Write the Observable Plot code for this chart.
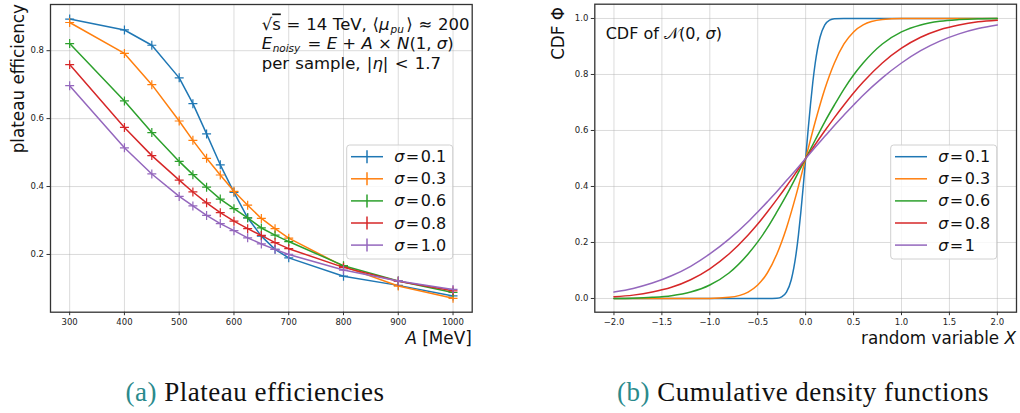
<!DOCTYPE html>
<html><head><meta charset="utf-8">
<script src="https://cdn.jsdelivr.net/npm/d3@7"></script>
<script src="https://cdn.jsdelivr.net/npm/@observablehq/plot@0.6"></script>
<style>
body{margin:0;background:#fff;}
#wrap{position:relative;width:1020px;height:413px;background:#fff;overflow:hidden;}
#wrap svg{position:absolute;top:0;}
.cap{position:absolute;top:375px;font-family:"Liberation Serif",serif;font-size:27px;letter-spacing:0.5px;line-height:34px;color:#111;white-space:nowrap;transform:translateX(-50%);}
.cap span{color:#2a8a8c;}
</style>
</head><body><div id="wrap"></div>
<script>
// ---------- data: left panel (plateau efficiency vs A) ----------
const sigmaLabelsA = ["σ = 0.1", "σ = 0.3", "σ = 0.6", "σ = 0.8", "σ = 1.0"];
const amplitudes = [300, 400, 450, 500, 525, 550, 575, 600, 625, 650, 675, 700, 800, 900, 1000];
const eff01 = [0.893, 0.861, 0.816, 0.720, 0.644, 0.555, 0.464, 0.383, 0.308, 0.254, 0.215, 0.190, 0.136, 0.109, 0.078];
const eff03 = [0.883, 0.792, 0.700, 0.593, 0.536, 0.483, 0.434, 0.386, 0.345, 0.306, 0.276, 0.248, 0.165, 0.107, 0.071];
const eff06 = [0.821, 0.652, 0.559, 0.474, 0.435, 0.398, 0.363, 0.335, 0.308, 0.278, 0.257, 0.238, 0.167, 0.122, 0.088];
const eff08 = [0.759, 0.574, 0.491, 0.419, 0.384, 0.352, 0.323, 0.298, 0.276, 0.256, 0.235, 0.217, 0.162, 0.121, 0.093];
const eff10 = [0.697, 0.514, 0.437, 0.371, 0.343, 0.315, 0.291, 0.270, 0.249, 0.231, 0.215, 0.200, 0.154, 0.122, 0.097];
const xTicksA = [300, 400, 500, 600, 700, 800, 900, 1000];
const yTicksA = [0.2, 0.4, 0.6, 0.8];

// ---------- data: right panel (CDF of N(0, sigma)) ----------
const sigmaLabelsB = ["σ = 0.1", "σ = 0.3", "σ = 0.6", "σ = 0.8", "σ = 1"];
const xFine = [-2, -0.4, -0.3, -0.25, -0.2, -0.15, -0.1, -0.075, -0.05, -0.025, 0, 0.025, 0.05, 0.075, 0.1, 0.15, 0.2, 0.25, 0.3, 0.4, 2];
const cdf01 = [0, 0, 0.001, 0.006, 0.023, 0.067, 0.159, 0.227, 0.309, 0.401, 0.5, 0.599, 0.691, 0.773, 0.841, 0.933, 0.977, 0.994, 0.999, 1, 1];
const xGrid = [-2, -1.8, -1.6, -1.4, -1.2, -1, -0.8, -0.6, -0.5, -0.4, -0.3, -0.2, -0.1, 0, 0.1, 0.2, 0.3, 0.4, 0.5, 0.6, 0.8, 1, 1.2, 1.4, 1.6, 1.8, 2];
const cdf03 = [0, 0, 0, 0, 0, 0, 0.004, 0.023, 0.048, 0.091, 0.159, 0.252, 0.369, 0.5, 0.631, 0.748, 0.841, 0.909, 0.952, 0.977, 0.996, 1, 1, 1, 1, 1, 1];
const cdf06 = [0, 0.001, 0.004, 0.010, 0.023, 0.048, 0.091, 0.159, 0.202, 0.252, 0.309, 0.369, 0.434, 0.5, 0.566, 0.631, 0.691, 0.748, 0.798, 0.841, 0.909, 0.952, 0.977, 0.990, 0.996, 0.999, 1];
const cdf08 = [0.006, 0.012, 0.023, 0.040, 0.067, 0.106, 0.159, 0.227, 0.266, 0.309, 0.354, 0.401, 0.450, 0.5, 0.550, 0.599, 0.646, 0.691, 0.734, 0.773, 0.841, 0.894, 0.933, 0.960, 0.977, 0.988, 0.994];
const cdf10 = [0.023, 0.036, 0.055, 0.081, 0.115, 0.159, 0.212, 0.274, 0.309, 0.345, 0.382, 0.421, 0.460, 0.5, 0.540, 0.579, 0.618, 0.655, 0.691, 0.726, 0.788, 0.841, 0.885, 0.919, 0.945, 0.964, 0.977];
const xTicksB = [-2, -1.5, -1, -0.5, 0, 0.5, 1, 1.5, 2];
const yTicksB = [0, 0.2, 0.4, 0.6, 0.8, 1.0];

const colors = ["#1f77b4", "#ff7f0e", "#2ca02c", "#d62728", "#9467bd"];

// ---------- tables ----------
const effSeries = [eff01, eff03, eff06, eff08, eff10];
const tableA = sigmaLabelsA.map((s, k) => amplitudes.map((a, i) => ({A: a, eff: effSeries[k][i], sigma: s})));
const cdfX = [xFine, xGrid, xGrid, xGrid, xGrid];
const cdfY = [cdf01, cdf03, cdf06, cdf08, cdf10];
const tableB = sigmaLabelsB.map((s, k) => cdfX[k].map((x, i) => ({x, p: cdfY[k][i], sigma: s})));

const gridStyle = {stroke: "#b0b0b0", strokeOpacity: 0.45, strokeWidth: 1};
const fontStyle = {fontFamily: "DejaVu Sans, sans-serif", fontSize: "8.5px", color: "#222", background: "white", overflow: "visible"};
const fmtMinus = d => (d < 0 ? "\u2212" : "") + Math.abs(d).toFixed(1);

const left = Plot.plot({
  width: 490, height: 350,
  marginLeft: 50, marginRight: 18.3, marginTop: 4, marginBottom: 38.3,
  style: fontStyle,
  x: {domain: [265, 1035]},
  y: {domain: [0.03, 0.936]},
  color: {domain: sigmaLabelsA, range: colors},
  marks: [
    Plot.gridX(xTicksA, gridStyle),
    Plot.gridY(yTicksA, gridStyle),
    Plot.axisX(xTicksA, {tickSize: 3.5, tickPadding: 3, label: null, tickFormat: d => String(d), stroke: "#333"}),
    Plot.axisY(yTicksA, {tickSize: 3.5, tickPadding: 3, label: null, tickFormat: d => d.toFixed(1), stroke: "#333"}),
    ...tableA.flatMap(rows => [
      Plot.line(rows, {x: "A", y: "eff", stroke: "sigma", strokeWidth: 1.5}),
      Plot.dot(rows, {x: "A", y: "eff", stroke: "sigma", symbol: "plus", r: 3, strokeWidth: 1.2})
    ]),
    Plot.frame({stroke: "#333", strokeWidth: 1.3})
  ]
});

const right = Plot.plot({
  width: 510, height: 350,
  marginLeft: 84.3, marginRight: 4, marginTop: 3.7, marginBottom: 38.3,
  style: fontStyle,
  x: {domain: [-2.2, 2.2]},
  y: {domain: [-0.049, 1.051]},
  color: {domain: sigmaLabelsB, range: colors},
  marks: [
    Plot.gridX(xTicksB, gridStyle),
    Plot.gridY(yTicksB, gridStyle),
    Plot.axisX(xTicksB, {tickSize: 3.5, tickPadding: 3, label: null, tickFormat: fmtMinus, stroke: "#333"}),
    Plot.axisY(yTicksB, {tickSize: 3.5, tickPadding: 3, label: null, tickFormat: d => d.toFixed(1), stroke: "#333"}),
    ...tableB.map(rows => Plot.line(rows, {x: "x", y: "p", stroke: "sigma", strokeWidth: 1.5, curve: "monotone-x"})),
    Plot.frame({stroke: "#333", strokeWidth: 1.3})
  ]
});

const wrap = document.getElementById("wrap");
left.style.left = "0px";
right.style.left = "510px";
wrap.appendChild(left);
wrap.appendChild(right);

// ---------- labels, annotations, legends ----------
const FONT = "DejaVu Sans, sans-serif";
function addText(svg, x, y, html, opts = {}) {
  const t = d3.select(svg).append("text")
    .attr("x", x).attr("y", y)
    .attr("font-family", FONT)
    .attr("font-size", opts.size || 15)
    .attr("fill", "#111")
    .attr("text-anchor", opts.anchor || "start");
  if (opts.wordSpacing) t.style("word-spacing", opts.wordSpacing + "px");
  if (opts.rotate) t.attr("transform", `rotate(${opts.rotate},${x},${y})`);
  t.node().innerHTML = html;
  return t;
}
function legend(svg, x0, y0, w, h, labels, withPlus) {
  const g = d3.select(svg).append("g");
  g.append("rect").attr("x", x0).attr("y", y0).attr("width", w).attr("height", h)
    .attr("rx", 3).attr("fill", "white").attr("fill-opacity", 0.8)
    .attr("stroke", "#d0d0d0").attr("stroke-width", 1);
  labels.forEach((lab, i) => {
    const yy = y0 + 11.7 + i * 22.1;
    g.append("line").attr("x1", x0 + 4.3).attr("x2", x0 + 36.3).attr("y1", yy).attr("y2", yy)
      .attr("stroke", colors[i]).attr("stroke-width", 1.5);
    if (withPlus) {
      g.append("line").attr("x1", x0 + 20.3).attr("x2", x0 + 20.3).attr("y1", yy - 6.5).attr("y2", yy + 6.5)
        .attr("stroke", colors[i]).attr("stroke-width", 1.5);
    }
    const parts = lab.split(" = ");
    g.append("text").attr("x", x0 + 47.5).attr("y", yy + 5.5)
      .attr("text-anchor", "start")
      .attr("font-family", FONT).attr("font-size", 16).attr("fill", "#111")
      .node().innerHTML = `<tspan font-style="italic">σ</tspan><tspan dx="1.5">=</tspan><tspan dx="1.5">${parts[1]}</tspan>`;
  });
}

// left panel
addText(left, 18 + 6, 4, "plateau efficiency", {rotate: -90, anchor: "end", size: 16.8});
addText(left, 471.7, 344, `<tspan font-style="italic">A</tspan> [MeV]`, {anchor: "end", size: 16.8});
addText(left, 261.7, 29.5, `√<tspan text-decoration="overline">s</tspan> = 14 TeV, ⟨<tspan font-style="italic">μ</tspan><tspan font-style="italic" font-size="10.5" dy="3" dx="1">pu</tspan><tspan dy="-3" dx="2.5">⟩ ≈ 200</tspan>`, {size: 16.5, wordSpacing: 0.5});
addText(left, 261.7, 48.5, `<tspan font-style="italic">E</tspan><tspan font-style="italic" font-size="10.5" dy="3" dx="0.5">noisy</tspan><tspan dy="-3" dx="2"> = </tspan><tspan font-style="italic">E</tspan> + <tspan font-style="italic">A</tspan> × <tspan font-style="italic">N</tspan>(1, <tspan font-style="italic">σ</tspan>)`, {size: 16.5});
addText(left, 261.7, 68.5, `per sample, |<tspan font-style="italic">η</tspan>| &lt; 1.7`, {size: 16.5, wordSpacing: 1});
legend(left, 346.7, 145, 106, 114, sigmaLabelsA, true);

// right panel
addText(right, 48 + 6, 7, "CDF Φ", {rotate: -90, anchor: "end", size: 16.8});
addText(right, 506, 344, `random variable <tspan font-style="italic">X</tspan>`, {anchor: "end", size: 16.8});
addText(right, 95.7, 39, `CDF of 𝒩(0, <tspan font-style="italic">σ</tspan>)`, {size: 16});
legend(right, 380.7, 145, 106, 114, sigmaLabelsB, false);

// captions
const capA = document.createElement("div");
capA.className = "cap"; capA.style.left = "255px";
capA.innerHTML = "<span>(a)</span> Plateau efficiencies";
const capB = document.createElement("div");
capB.className = "cap"; capB.style.left = "803px";
capB.innerHTML = "<span>(b)</span> Cumulative density functions";
wrap.appendChild(capA); wrap.appendChild(capB);
</script></body></html>
